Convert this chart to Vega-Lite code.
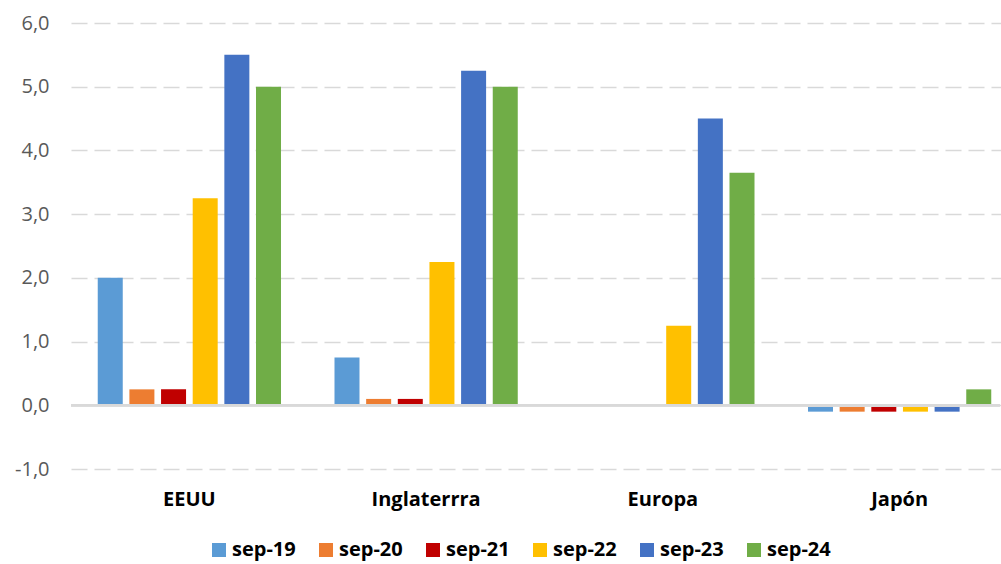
{
  "$schema": "https://vega.github.io/schema/vega-lite/v6.json",
  "autosize": "none",
  "width": 929,
  "height": 446,
  "padding": {"left": 71, "top": 23, "right": 1, "bottom": 95},
  "background": "white",
  "config": {"view": {"stroke": null}},
  "data": {"values": [
    {"pais": "EEUU", "serie": "sep-19", "valor": 2.0},
    {"pais": "EEUU", "serie": "sep-20", "valor": 0.25},
    {"pais": "EEUU", "serie": "sep-21", "valor": 0.25},
    {"pais": "EEUU", "serie": "sep-22", "valor": 3.25},
    {"pais": "EEUU", "serie": "sep-23", "valor": 5.5},
    {"pais": "EEUU", "serie": "sep-24", "valor": 5.0},
    {"pais": "Inglaterrra", "serie": "sep-19", "valor": 0.75},
    {"pais": "Inglaterrra", "serie": "sep-20", "valor": 0.1},
    {"pais": "Inglaterrra", "serie": "sep-21", "valor": 0.1},
    {"pais": "Inglaterrra", "serie": "sep-22", "valor": 2.25},
    {"pais": "Inglaterrra", "serie": "sep-23", "valor": 5.25},
    {"pais": "Inglaterrra", "serie": "sep-24", "valor": 5.0},
    {"pais": "Europa", "serie": "sep-19", "valor": 0},
    {"pais": "Europa", "serie": "sep-20", "valor": 0},
    {"pais": "Europa", "serie": "sep-21", "valor": 0},
    {"pais": "Europa", "serie": "sep-22", "valor": 1.25},
    {"pais": "Europa", "serie": "sep-23", "valor": 4.5},
    {"pais": "Europa", "serie": "sep-24", "valor": 3.65},
    {"pais": "Japón", "serie": "sep-19", "valor": -0.1},
    {"pais": "Japón", "serie": "sep-20", "valor": -0.1},
    {"pais": "Japón", "serie": "sep-21", "valor": -0.1},
    {"pais": "Japón", "serie": "sep-22", "valor": -0.1},
    {"pais": "Japón", "serie": "sep-23", "valor": -0.1},
    {"pais": "Japón", "serie": "sep-24", "valor": 0.25}
  ]},
  "layer": [
    {
      "mark": {"type": "bar"},
      "encoding": {
        "x": {
          "field": "pais", "type": "nominal", "sort": null, "title": null,
          "scale": {"paddingInner": 0, "paddingOuter": 0, "range": [0, 947]},
          "axis": {"domain": false, "ticks": false, "labelAngle": 0, "labelFont": "Open Sans", "labelFontWeight": "bold", "labelFontSize": 20, "labelColor": "#000000", "labelPadding": 20}
        },
        "xOffset": {
          "field": "serie", "type": "nominal", "sort": null,
          "scale": {"paddingInner": 0.21, "paddingOuter": 0.845}
        },
        "y": {
          "field": "valor", "type": "quantitative", "title": null,
          "scale": {"domain": [-1, 6], "nice": false},
          "axis": {"values": [-1, 0, 1, 2, 3, 4, 5, 6], "domain": false, "ticks": false, "labelExpr": "replace(replace(format(datum.value, '.1f'), '.', ','), '\u2212', '-')", "labelFont": "Open Sans", "labelFontSize": 20, "labelColor": "#595959", "labelPadding": 22, "grid": true, "gridColor": "#d9d9d9", "gridWidth": 1.5, "gridDash": [16, 7]}
        },
        "color": {
          "field": "serie", "type": "nominal", "sort": null, "title": null,
          "scale": {"domain": ["sep-19", "sep-20", "sep-21", "sep-22", "sep-23", "sep-24"], "range": ["#5B9BD5", "#ED7D31", "#C00000", "#FFC000", "#4472C4", "#70AD47"]},
          "legend": {"orient": "none", "direction": "horizontal", "columns": 6, "legendX": 138, "legendY": 517, "symbolType": "square", "symbolSize": 196, "symbolStrokeWidth": 0, "symbolOpacity": 1, "labelFont": "Open Sans", "labelFontWeight": "bold", "labelFontSize": 20, "labelColor": "#000000", "columnPadding": 20, "labelOffset": 3}
        }
      }
    },
    {
      "mark": {"type": "rule", "color": "#d9d9d9", "strokeWidth": 2},
      "encoding": {"y": {"datum": 0}}
    }
  ]
}
